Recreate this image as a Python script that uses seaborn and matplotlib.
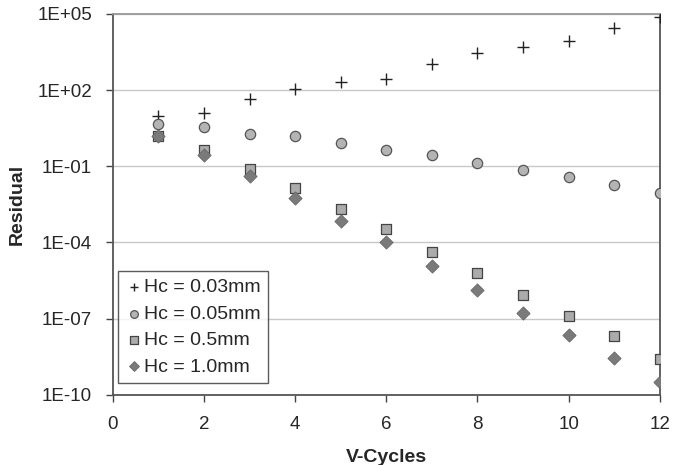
import matplotlib
matplotlib.use("Agg")
import matplotlib.pyplot as plt
import seaborn as sns
import numpy as np
import pandas as pd

sns.set_theme(style="white")
plt.rcParams['font.family'] = ['Liberation Sans', 'DejaVu Sans']

# data
cycles = [1, 2, 3, 4, 5, 6, 7, 8, 9, 10, 11, 12]
hc_003 = [10, 12, 45, 112, 210, 280, 1070, 2800, 5100, 8700, 28000, 78000]
hc_005 = [4.5, 3.6, 1.9, 1.5, 0.81, 0.45, 0.28, 0.13, 0.072, 0.039, 0.018, 0.0087]
hc_05 = [1.6, 0.42, 0.078, 0.014, 0.0021, 3.3e-4, 4.4e-5, 6.2e-6, 8.7e-7, 1.3e-7, 2.0e-8, 2.6e-9]
hc_10 = [1.5, 0.28, 0.043, 0.0055, 7.2e-4, 1.0e-4, 1.2e-5, 1.4e-6, 1.7e-7, 2.3e-8, 2.7e-9, 3.3e-10]
labels = ['Hc = 0.03mm', 'Hc = 0.05mm', 'Hc = 0.5mm', 'Hc = 1.0mm']
ytick_vals = [1e5, 1e2, 1e-1, 1e-4, 1e-7, 1e-10]
ytick_labels = ['1E+05', '1E+02', '1E-01', '1E-04', '1E-07', '1E-10']
xtick_vals = [0, 2, 4, 6, 8, 10, 12]

fig = plt.figure(figsize=(6.76, 4.65), dpi=100)
ax = fig.add_axes([0.167, 0.151, 0.809, 0.819])

styles = [
    dict(marker='+', color='#222222', s=70, linewidth=1.0),
    dict(marker='o', color='#b4b4b4', s=55, edgecolor='#555555', linewidth=0.9),
    dict(marker='s', color='#ababab', s=60, edgecolor='#444444', linewidth=0.9),
    dict(marker='D', color='#7a7a7a', s=45, edgecolor='#666666', linewidth=0.6),
]
for vals, lab, st in zip([hc_003, hc_005, hc_05, hc_10], labels, styles):
    df = pd.DataFrame({'x': cycles, 'y': vals})
    sns.scatterplot(data=df, x='x', y='y', ax=ax, label=lab, zorder=3, **st)

ax.set_yscale('log')
ax.set_xlim(0, 12)
ax.set_ylim(1e-10, 1e5)
ax.set_yticks(ytick_vals)
ax.set_yticklabels(ytick_labels)
ax.minorticks_off()
ax.set_xticks(xtick_vals)
ax.set_xticklabels([str(v) for v in xtick_vals])
ax.yaxis.grid(True, color='#c8c8c8', linewidth=1.0)
ax.tick_params(axis='both', labelsize=13.5, length=5, width=1, color='#444444',
               direction='out', left=True, bottom=True)
ax.tick_params(axis='x', pad=10)
ax.tick_params(axis='y', pad=10)
ax.set_xlabel('V-Cycles', fontsize=14, fontweight='bold', labelpad=12)
ax.set_ylabel('Residual', fontsize=14, fontweight='bold', labelpad=8)

for side in ['left', 'bottom', 'right']:
    ax.spines[side].set_color('#555555')
    ax.spines[side].set_linewidth(1.3)
ax.spines['top'].set_color('#999999')
ax.spines['top'].set_linewidth(1.3)

leg = ax.legend(loc='lower left', bbox_to_anchor=(0.003, 0.02), fontsize=14,
                frameon=True, fancybox=False, edgecolor='#333333',
                handletextpad=0.1, borderpad=0.4, labelspacing=0.45,
                handlelength=0.8, markerscale=0.75, borderaxespad=0.2)
leg.get_frame().set_linewidth(1.0)

fig.savefig('out.png', dpi=100)
